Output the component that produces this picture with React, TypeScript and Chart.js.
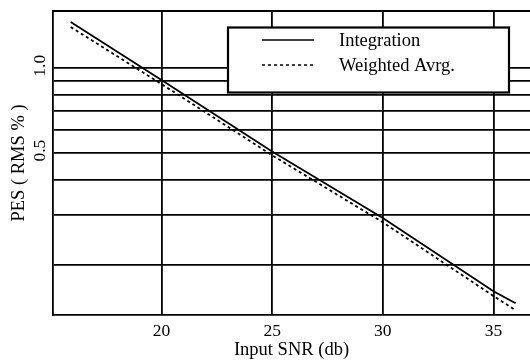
import React, { useEffect, useRef } from "react";
import { Chart, registerables } from "chart.js";

Chart.register(...registerables);

// ---- data ----
const snrDb = [15.9, 20, 25, 30, 35, 36];
const integration = [1.452, 0.905, 0.504, 0.293, 0.161, 0.146];
const weightedAvrg = [1.394, 0.875, 0.489, 0.283, 0.155, 0.138];
const seriesNames = ["Integration", "Weighted Avrg."];
const xTickValues = [20, 25, 30, 35];
const yGridValues = [0.2, 0.3, 0.4, 0.5, 0.6, 0.7, 0.8, 0.9, 1.0];
const yLabelValues = [0.5, 1.0];
const xRange = [15.1, 36.65];
const yRange = [0.1327, 1.589];

const SERIF = '"Liberation Serif", "Times New Roman", serif';

const paperPlugin = {
  id: "paper",
  afterDraw(chart: any) {
    const { ctx, chartArea, scales } = chart;
    ctx.save();
    // top frame line
    ctx.strokeStyle = "#000";
    ctx.lineWidth = 1.8;
    ctx.beginPath();
    ctx.moveTo(chartArea.left, chartArea.top);
    ctx.lineTo(chartArea.right, chartArea.top);
    ctx.stroke();

    // rotated y tick labels
    ctx.fillStyle = "#000";
    ctx.font = `17.5px ${SERIF}`;
    ctx.textAlign = "center";
    ctx.textBaseline = "middle";
    for (const v of yLabelValues) {
      const y = scales.y.getPixelForValue(v);
      ctx.save();
      ctx.translate(40, y - 2);
      ctx.rotate(-Math.PI / 2);
      ctx.fillText(v.toFixed(1), 0, 0);
      ctx.restore();
    }

    // legend box
    const bx = 228, by = 27.5, bw = 281, bh = 65;
    ctx.fillStyle = "#fff";
    ctx.fillRect(bx, by, bw, bh);
    ctx.strokeStyle = "#000";
    ctx.lineWidth = 2.2;
    ctx.strokeRect(bx, by, bw, bh);
    const rows = [40, 65];
    chart.data.datasets.forEach((ds: any, i: number) => {
      const y = rows[i];
      ctx.strokeStyle = ds.borderColor;
      ctx.lineWidth = 1.5;
      ctx.setLineDash(ds.borderDash || []);
      ctx.beginPath();
      ctx.moveTo(262, y);
      ctx.lineTo(314, y);
      ctx.stroke();
      ctx.setLineDash([]);
      ctx.fillStyle = "#000";
      ctx.font = `18.5px ${SERIF}`;
      ctx.textAlign = "left";
      ctx.textBaseline = "middle";
      ctx.fillText(ds.label, 339, y + 1);
    });
    ctx.restore();
  },
};

export default function App() {
  const ref = useRef<HTMLCanvasElement | null>(null);

  useEffect(() => {
    if (!ref.current) return;
    const chart = new Chart(ref.current, {
      type: "line",
      data: {
        datasets: [
          {
            label: seriesNames[0],
            data: snrDb.map((x, i) => ({ x, y: integration[i] })),
            borderColor: "#000",
            borderWidth: 1.8,
            pointRadius: 0,
            fill: false,
            tension: 0,
          },
          {
            label: seriesNames[1],
            data: snrDb.map((x, i) => ({ x, y: weightedAvrg[i] })),
            borderColor: "#000",
            borderWidth: 1.8,
            borderDash: [3, 3],
            pointRadius: 0,
            fill: false,
            tension: 0,
          },
        ],
      },
      options: {
        responsive: false,
        animation: false,
        devicePixelRatio: 1,
        layout: { padding: { top: 11, left: 0, right: 0, bottom: 0 } },
        plugins: { legend: { display: false }, tooltip: { enabled: false } },
        scales: {
          x: {
            type: "linear",
            min: xRange[0],
            max: xRange[1],
            afterBuildTicks: (s: any) => {
              s.ticks = xTickValues.map((v) => ({ value: v }));
            },
            afterFit: (s: any) => {
              s.height = 46;
            },
            grid: { color: "#000", lineWidth: 1.8, drawTicks: false },
            border: { display: true, color: "#000", width: 1.8 },
            ticks: {
              color: "#000",
              font: { family: SERIF, size: 17.5 },
              padding: 6,
              maxRotation: 0,
              autoSkip: false,
            },
            title: {
              display: true,
              text: "Input SNR (db)",
              color: "#000",
              font: { family: SERIF, size: 18.5 },
              padding: { top: 0, bottom: 0 },
            },
          },
          y: {
            type: "logarithmic",
            min: yRange[0],
            max: yRange[1],
            afterBuildTicks: (s: any) => {
              s.ticks = yGridValues.map((v) => ({ value: v }));
            },
            afterFit: (s: any) => {
              s.width = 53;
            },
            grid: { color: "#000", lineWidth: 1.8, drawTicks: false },
            border: { display: true, color: "#000", width: 1.8 },
            ticks: { display: false },
            title: {
              display: true,
              text: "PES ( RMS % )",
              color: "#000",
              font: { family: SERIF, size: 18.5 },
              padding: { top: 8, bottom: 0 },
            },
          },
        },
      },
      plugins: [paperPlugin],
    } as any);
    return () => chart.destroy();
  }, []);

  return (
    <canvas
      ref={ref}
      width={530}
      height={361}
      style={{ position: "absolute", left: 0, top: 0, display: "block", background: "#fff" }}
    />
  );
}
